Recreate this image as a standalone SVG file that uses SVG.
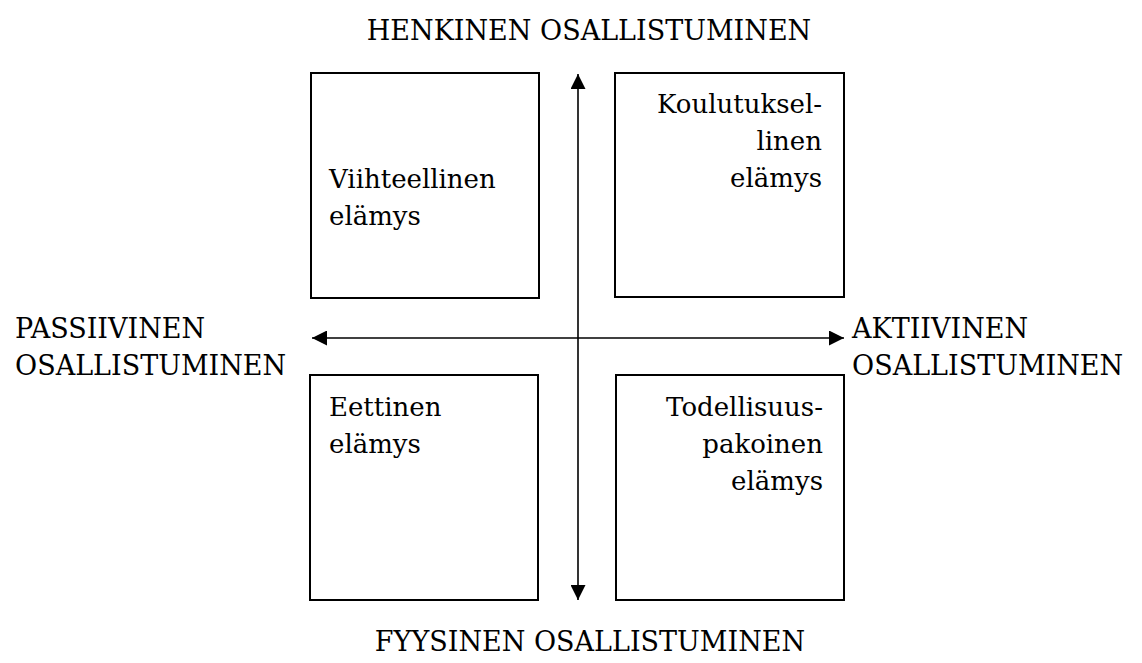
<svg xmlns="http://www.w3.org/2000/svg" width="1142" height="663" viewBox="0 0 1142 663">
  <style>
    text { font-family: "DejaVu Serif", serif; font-size: 27px; fill: #000; }
    .inner { font-size: 26px; }
    .box { fill: #fff; stroke: #000; stroke-width: 2; }
    .axis { stroke: #000; stroke-width: 1.6; fill: none; }
    .end { text-anchor: end; }
  </style>
  <defs>
    <marker id="head" viewBox="0 0 10 10" refX="10" refY="5" markerWidth="15" markerHeight="15" markerUnits="userSpaceOnUse" orient="auto-start-reverse">
      <path d="M0,0 L10,5 L0,10 Z" fill="#000"/>
    </marker>
  </defs>
  <rect width="1142" height="663" fill="#fff"/>

  <!-- axes -->
  <g id="connectors">
    <line class="axis" x1="578" y1="74" x2="578" y2="600" marker-start="url(#head)" marker-end="url(#head)"/>
    <line class="axis" x1="312" y1="338" x2="844" y2="338" marker-start="url(#head)" marker-end="url(#head)"/>
  </g>

  <!-- axis labels -->
  <g id="label-top"><text x="589" y="40" text-anchor="middle">HENKINEN OSALLISTUMINEN</text></g>
  <g id="label-bottom"><text x="590" y="651" text-anchor="middle">FYYSINEN OSALLISTUMINEN</text></g>
  <g id="label-left">
    <text x="15" y="338">PASSIIVINEN</text>
    <text x="15" y="375">OSALLISTUMINEN</text>
  </g>
  <g id="label-right">
    <text x="852" y="338">AKTIIVINEN</text>
    <text x="852" y="375">OSALLISTUMINEN</text>
  </g>

  <!-- quadrants -->
  <g id="viihteellinen">
    <rect class="box" x="311" y="73" width="228" height="225"/>
    <text class="inner" x="329" y="188">Viihteellinen</text>
    <text class="inner" x="329" y="225">elämys</text>
  </g>
  <g id="koulutuksellinen">
    <rect class="box" x="615" y="73" width="229" height="224"/>
    <text class="inner end" x="822" y="113">Koulutuksel-</text>
    <text class="inner end" x="822" y="150">linen</text>
    <text class="inner end" x="822" y="187">elämys</text>
  </g>
  <g id="eettinen">
    <rect class="box" x="310" y="375" width="228" height="225"/>
    <text class="inner" x="329" y="416">Eettinen</text>
    <text class="inner" x="329" y="453">elämys</text>
  </g>
  <g id="todellisuuspakoinen">
    <rect class="box" x="616" y="375" width="228" height="225"/>
    <text class="inner end" x="823" y="416">Todellisuus-</text>
    <text class="inner end" x="823" y="453">pakoinen</text>
    <text class="inner end" x="823" y="490">elämys</text>
  </g>
</svg>
